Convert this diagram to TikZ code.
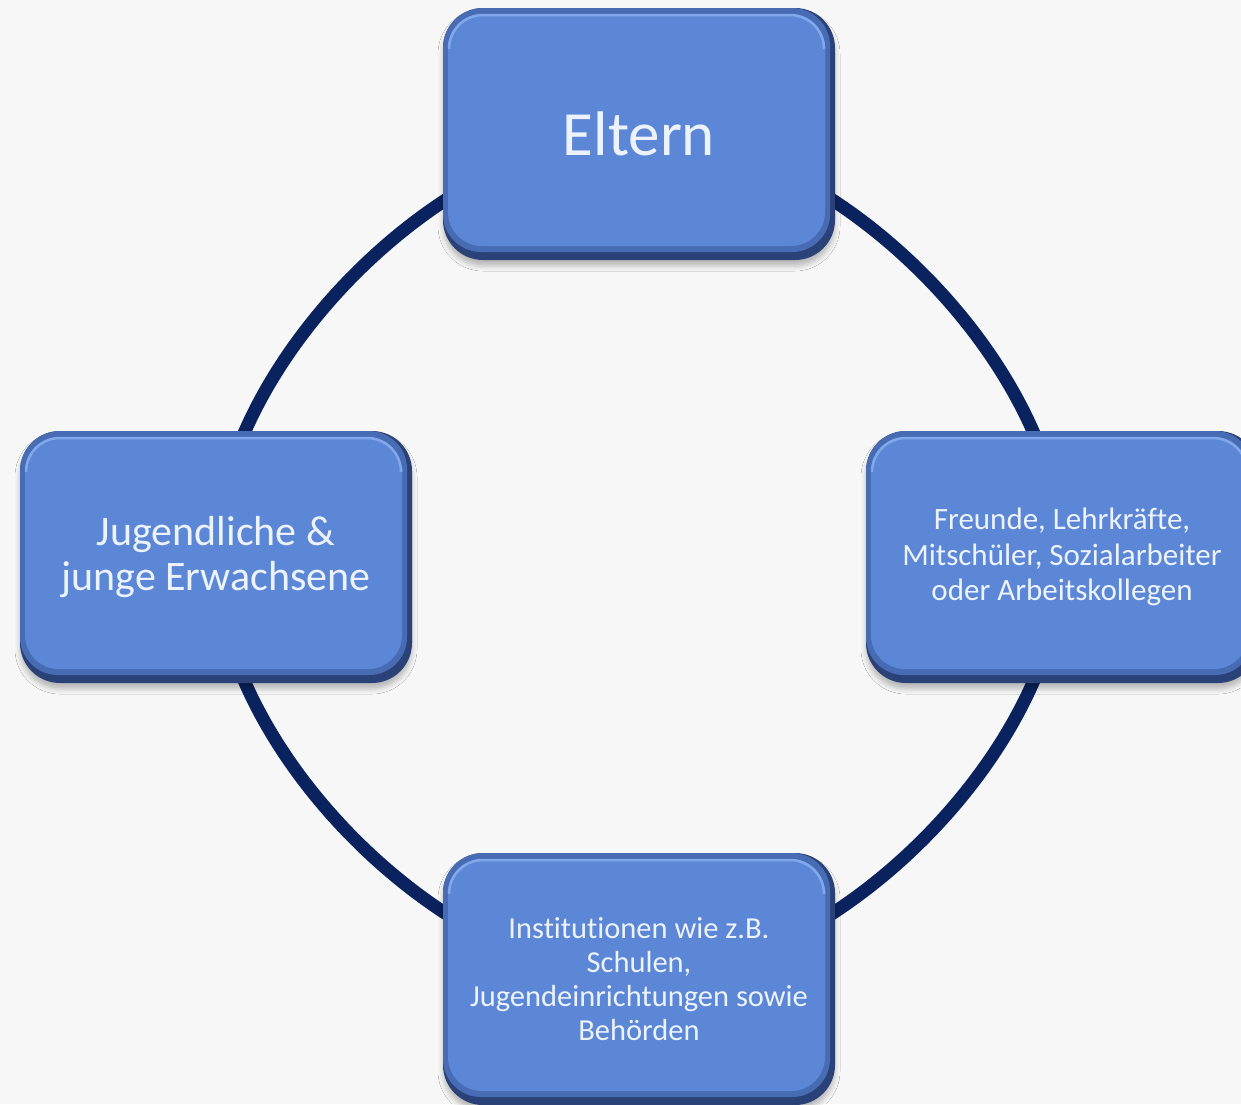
\documentclass[tikz,border=0pt]{standalone}
\usepackage{fontspec}
\setmainfont[Ligatures=NoCommon]{Carlito}
\usetikzlibrary{backgrounds,shadows.blur}

\definecolor{hintergrund}{RGB}{247,247,247}
\definecolor{kreis}{RGB}{10,34,94}
\definecolor{flaeche}{RGB}{92,134,214}
\definecolor{randhell}{RGB}{72,108,180}
\definecolor{randdunkel}{RGB}{42,66,120}
\definecolor{glanz}{RGB}{130,168,236}
\definecolor{schrift}{RGB}{236,243,252}

\tikzset{
  kasten/.style={rectangle, rounded corners=40pt, minimum width=392pt, minimum height=252pt,
    inner sep=0pt, fill=randdunkel, text=schrift, align=center,
    blur shadow={shadow xshift=0pt, shadow yshift=-6pt, shadow blur radius=5pt, shadow opacity=25},
    path picture={
      \fill[randhell, rounded corners=38pt] (path picture bounding box.north west) rectangle ([shift={(-5pt,8pt)}]path picture bounding box.south east);
      \fill[flaeche, rounded corners=34pt] ([shift={(5pt,-6pt)}]path picture bounding box.north west) rectangle ([shift={(-10pt,14pt)}]path picture bounding box.south east);
      \draw[glanz, line width=2.5pt, rounded corners=34pt] ([shift={(6pt,-38pt)}]path picture bounding box.north west) -- ([shift={(6pt,-7pt)}]path picture bounding box.north west) -- ([shift={(-11pt,-7pt)}]path picture bounding box.north east) -- ([shift={(-11pt,-38pt)}]path picture bounding box.north east);
    }},
  verbindung/.style={draw=kreis, line width=13pt}
}

\begin{document}
\begin{tikzpicture}[x=1pt, y=-1pt]
  % Rahmen des Bildes
  \useasboundingbox (0,0) rectangle (1241,1104);
  \clip (0,0) rectangle (1241,1104);

  % Die vier Kaesten
  \node[kasten, font=\fontsize{63}{70}\selectfont] (eltern) at (639,134) {Eltern};
  \node[kasten, font=\fontsize{42}{45}\selectfont] (jugend) at (216,557) {Jugendliche \&\\junge Erwachsene};
  \node[kasten, font=\fontsize{31}{35.5}\selectfont] (umfeld) at (1062,557) {Freunde, Lehrkräfte,\\Mitschüler, Sozialarbeiter\\oder Arbeitskollegen};
  \node[kasten, font=\fontsize{30.5}{34}\selectfont] (institution) at (639,979) {Institutionen wie z.B.\\Schulen,\\Jugendeinrichtungen sowie\\Behörden};

  % Kreis hinter den Kaesten
  \begin{scope}[on background layer]
    \fill[hintergrund] (0,0) rectangle (1241,1104);
    \foreach \von/\nach in {eltern/jugend, jugend/institution, institution/umfeld, umfeld/eltern}
      \draw[verbindung] (\von.center) to[bend right=45, looseness=0.82] (\nach.center);
  \end{scope}
\end{tikzpicture}
\end{document}
